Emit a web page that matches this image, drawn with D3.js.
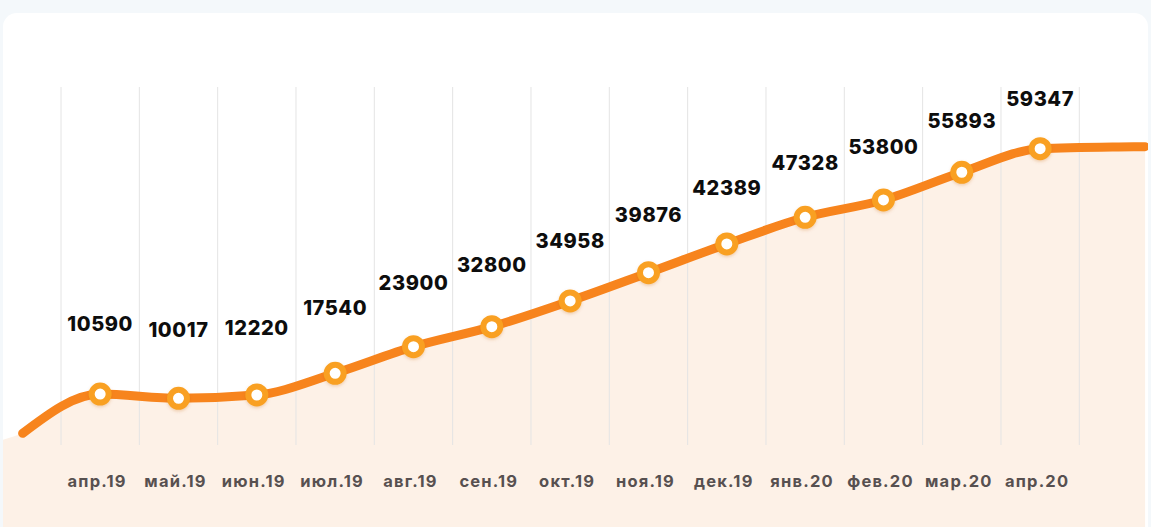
<!DOCTYPE html>
<html>
<head>
<meta charset="utf-8">
<script src="https://cdn.jsdelivr.net/npm/d3@7"></script>
<style>
  html, body { margin: 0; padding: 0; background: #f4f8fb; }
  svg { display: block; }
</style>
</head>
<body>
<svg id="chart" width="1151" height="527"></svg>
<script>
// ---- data ----
const months = ["апр.19", "май.19", "июн.19", "июл.19", "авг.19", "сен.19", "окт.19",
                "ноя.19", "дек.19", "янв.20", "фев.20", "мар.20", "апр.20"];
// printed values
const values = [10590, 10017, 12220, 17540, 23900, 32800, 34958, 39876, 42389, 47328, 53800, 55893, 59347];
// heights of the plotted points as drawn in the picture (same units)
const curveLevels = [10590, 9740, 10396, 14709, 19996, 23971, 29080, 34705, 40410, 45717, 49155, 54661, 59347];
// decorative lead-in / tail of the curve (index position, level)
const leadIn = [{ i: -1.3, level: 1200 }, { i: -0.99, level: 2780 }];
const tail = [{ i: 13.0, level: 59700 }, { i: 13.34, level: 59750 }];

// ---- layout ----
const W = 1151, H = 527;
const svg = d3.select("#chart");

const defs = svg.append("defs");
const shadow = defs.append("filter").attr("id", "sh").attr("x", "-50%").attr("y", "-50%").attr("width", "200%").attr("height", "200%");
shadow.append("feDropShadow").attr("dx", 0).attr("dy", 1.5).attr("stdDeviation", 1.5)
  .attr("flood-color", "#c25a00").attr("flood-opacity", 0.25);
defs.append("clipPath").attr("id", "card")
  .append("rect").attr("x", 3).attr("y", 13).attr("width", 1145).attr("height", 540).attr("rx", 14);

// card
svg.append("rect").attr("x", 3).attr("y", 13).attr("width", 1145).attr("height", 540)
  .attr("rx", 14).attr("fill", "#ffffff");

const x = d3.scaleBand().domain(months).range([61, 1079.3]).padding(0);
const bw = x.bandwidth();
const xi = d3.scaleLinear().domain([0, months.length - 1])
  .range([x(months[0]) + bw / 2, x(months[months.length - 1]) + bw / 2]);
const y = d3.scaleLinear().domain([0, 60000]).range([447.3, 145.4]);

const g = svg.append("g").attr("clip-path", "url(#card)");

const pts = curveLevels.map((v, i) => ({ i, level: v }));
const linePts = [leadIn[1], ...pts, ...tail];
const areaPts = [leadIn[0], ...linePts];

// area
const area = d3.area().curve(d3.curveMonotoneX)
  .x(d => xi(d.i)).y0(H + 10).y1(d => y(d.level));
g.append("path").datum(areaPts).attr("d", area).attr("fill", "#fdf1e7");

// grid lines at band boundaries
const bounds = months.map(m => x(m)).concat([x(months[months.length - 1]) + bw]);
g.selectAll("line.grid").data(bounds).join("line")
  .attr("class", "grid")
  .attr("x1", d => d).attr("x2", d => d)
  .attr("y1", 87).attr("y2", 445)
  .attr("stroke", "#e4e4e4").attr("stroke-width", 1);

// line
const line = d3.line().curve(d3.curveMonotoneX)
  .x(d => xi(d.i)).y(d => y(d.level));
g.append("path").datum(linePts).attr("d", line)
  .attr("fill", "none").attr("stroke", "#f7841d").attr("stroke-width", 9)
  .attr("stroke-linecap", "round").attr("stroke-linejoin", "round");

// markers
g.selectAll("circle.pt").data(pts).join("circle")
  .attr("class", "pt")
  .attr("cx", d => xi(d.i)).attr("cy", d => y(d.level))
  .attr("r", 8.5).attr("fill", "#ffffff")
  .attr("stroke", "#f9a020").attr("stroke-width", 6)
  .attr("filter", "url(#sh)");

// value labels
g.selectAll("text.val").data(pts).join("text")
  .attr("class", "val")
  .attr("x", d => xi(d.i))
  .attr("y", d => y(d.level) - (63 - 1.7 * d.i))
  .attr("text-anchor", "middle")
  .attr("font-family", "Inter, 'Open Sans', sans-serif")
  .attr("font-weight", 800).attr("font-size", 20)
  .attr("letter-spacing", 0.6)
  .attr("fill", "#0d0d0d")
  .text((d, k) => values[k]);

// month labels (axis)
const axis = d3.axisBottom(x).tickSize(0).tickPadding(0);
const ax = g.append("g").attr("transform", "translate(-3, 487)").call(axis);
ax.select(".domain").remove();
ax.selectAll("text")
  .attr("dy", 0)
  .attr("font-family", "Inter, 'Open Sans', sans-serif")
  .attr("font-weight", 700).attr("font-size", 16.5)
  .attr("letter-spacing", 1.2)
  .attr("fill", "#575050");
</script>
</body>
</html>
